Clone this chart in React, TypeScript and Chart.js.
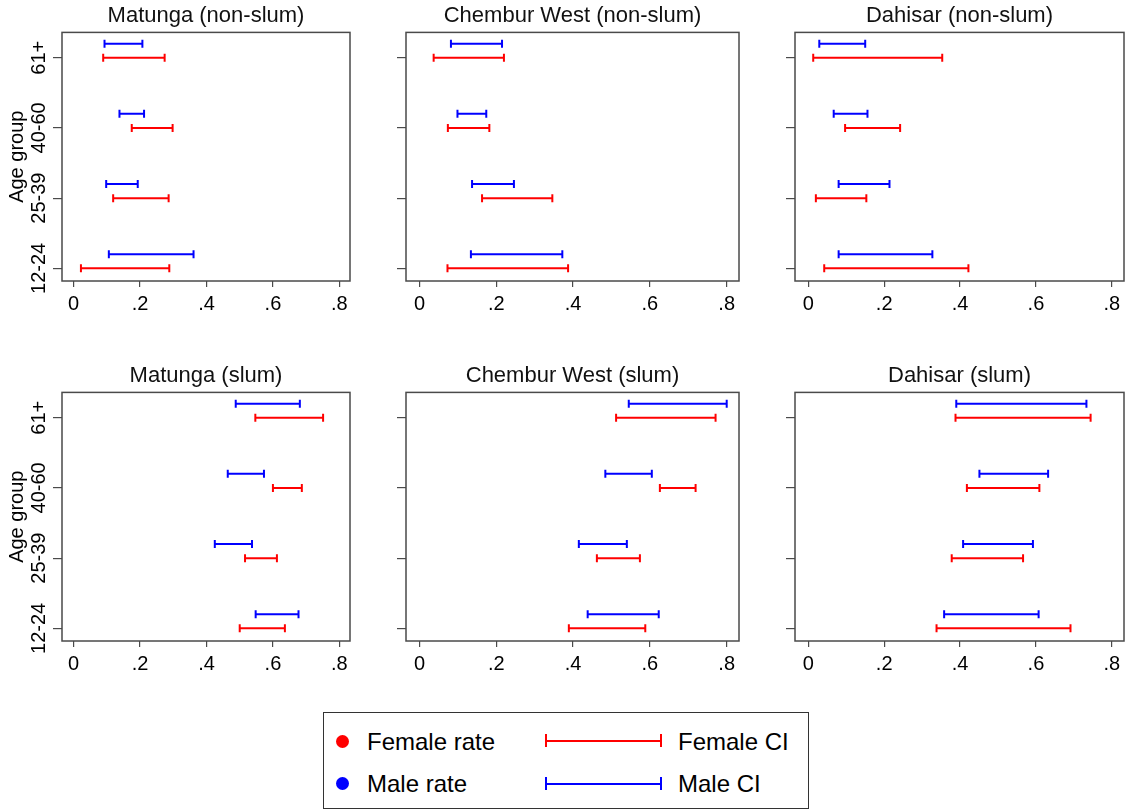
import React, { useEffect, useRef } from 'react';
import { Chart, registerables } from 'chart.js';

Chart.register(...registerables);

// ---------- data ----------
const ageGroups = ['12-24', '25-39', '40-60', '61+'];
const ageGroupPositions = [1, 2, 3, 4];
const maleOffset = 0.2;
const xTickValues = [0, 0.2, 0.4, 0.6, 0.8];
const xTickLabels = ['0', '.2', '.4', '.6', '.8'];
const yAxisTitle = 'Age group';

const panelTitles = [
  'Matunga (non-slum)',
  'Chembur West (non-slum)',
  'Dahisar (non-slum)',
  'Matunga (slum)',
  'Chembur West (slum)',
  'Dahisar (slum)',
];

// CI bounds, ordered as ageGroups: 12-24, 25-39, 40-60, 61+
const matungaNonSlumFemaleLo = [0.022, 0.119, 0.175, 0.089];
const matungaNonSlumFemaleHi = [0.288, 0.286, 0.298, 0.274];
const matungaNonSlumMaleLo = [0.106, 0.098, 0.138, 0.093];
const matungaNonSlumMaleHi = [0.361, 0.193, 0.212, 0.207];

const chemburNonSlumFemaleLo = [0.073, 0.163, 0.074, 0.037];
const chemburNonSlumFemaleHi = [0.387, 0.346, 0.182, 0.220];
const chemburNonSlumMaleLo = [0.134, 0.137, 0.099, 0.082];
const chemburNonSlumMaleHi = [0.372, 0.246, 0.174, 0.215];

const dahisarNonSlumFemaleLo = [0.042, 0.020, 0.097, 0.013];
const dahisarNonSlumFemaleHi = [0.422, 0.153, 0.242, 0.353];
const dahisarNonSlumMaleLo = [0.080, 0.080, 0.067, 0.029];
const dahisarNonSlumMaleHi = [0.327, 0.214, 0.156, 0.150];

const matungaSlumFemaleLo = [0.500, 0.516, 0.600, 0.547];
const matungaSlumFemaleHi = [0.636, 0.612, 0.687, 0.751];
const matungaSlumMaleLo = [0.548, 0.425, 0.464, 0.488];
const matungaSlumMaleHi = [0.677, 0.537, 0.573, 0.681];

const chemburSlumFemaleLo = [0.389, 0.462, 0.626, 0.512];
const chemburSlumFemaleHi = [0.588, 0.574, 0.719, 0.771];
const chemburSlumMaleLo = [0.438, 0.415, 0.484, 0.545];
const chemburSlumMaleHi = [0.623, 0.540, 0.605, 0.800];

const dahisarSlumFemaleLo = [0.338, 0.378, 0.418, 0.388];
const dahisarSlumFemaleHi = [0.691, 0.566, 0.609, 0.744];
const dahisarSlumMaleLo = [0.358, 0.408, 0.451, 0.390];
const dahisarSlumMaleHi = [0.607, 0.592, 0.632, 0.733];

const legendLabels = ['Female rate', 'Male rate', 'Female CI', 'Male CI'];

// ---------- styling / layout ----------
const FONT = '"Liberation Sans", Arial, Helvetica, sans-serif';
const FEMALE_COLOR = '#ff0000';
const MALE_COLOR = '#0000ff';
const FRAME_COLOR = '#4a4a4a';

const panels = [
  { title: panelTitles[0], fLo: matungaNonSlumFemaleLo, fHi: matungaNonSlumFemaleHi, mLo: matungaNonSlumMaleLo, mHi: matungaNonSlumMaleHi },
  { title: panelTitles[1], fLo: chemburNonSlumFemaleLo, fHi: chemburNonSlumFemaleHi, mLo: chemburNonSlumMaleLo, mHi: chemburNonSlumMaleHi },
  { title: panelTitles[2], fLo: dahisarNonSlumFemaleLo, fHi: dahisarNonSlumFemaleHi, mLo: dahisarNonSlumMaleLo, mHi: dahisarNonSlumMaleHi },
  { title: panelTitles[3], fLo: matungaSlumFemaleLo, fHi: matungaSlumFemaleHi, mLo: matungaSlumMaleLo, mHi: matungaSlumMaleHi },
  { title: panelTitles[4], fLo: chemburSlumFemaleLo, fHi: chemburSlumFemaleHi, mLo: chemburSlumMaleLo, mHi: chemburSlumMaleHi },
  { title: panelTitles[5], fLo: dahisarSlumFemaleLo, fHi: dahisarSlumFemaleHi, mLo: dahisarSlumMaleLo, mHi: dahisarSlumMaleHi },
];

const colLayouts = [
  { x: 0, w: 360, yWidth: 62, padRight: 10, labels: true },
  { x: 370, w: 380, yWidth: 36, padRight: 11, labels: false },
  { x: 755, w: 375, yWidth: 40, padRight: 2, labels: false },
];
const rowTops = [0, 360];
const PANEL_H = 330;

function ciDataset(lo: number, hi: number, y: number, color: string) {
  return {
    type: 'scatter' as const,
    data: [
      { x: lo, y },
      { x: hi, y },
    ],
    showLine: true,
    borderColor: color,
    backgroundColor: color,
    borderWidth: 2,
    pointStyle: 'line' as const,
    rotation: 90,
    pointRadius: 4,
    pointHoverRadius: 4,
    pointBorderWidth: 2,
    pointBorderColor: color,
  };
}

const framePlugin = {
  id: 'frame',
  afterDraw(chart: any) {
    const { ctx, chartArea: a } = chart;
    ctx.save();
    ctx.strokeStyle = FRAME_COLOR;
    ctx.lineWidth = 1.5;
    ctx.strokeRect(a.left, a.top, a.right - a.left, a.bottom - a.top);
    ctx.restore();
  },
};

const yLabelPlugin = {
  id: 'yLabels',
  afterDraw(chart: any, _args: any, opts: any) {
    if (!opts || !opts.show) return;
    const ys = chart.scales.y;
    const { ctx } = chart;
    ctx.save();
    ctx.font = `20px ${FONT}`;
    ctx.fillStyle = '#000';
    ctx.textAlign = 'center';
    ctx.textBaseline = 'middle';
    ageGroupPositions.forEach((pos, i) => {
      const py = ys.getPixelForValue(pos);
      ctx.save();
      ctx.translate(ys.right - 9 - 14, py);
      ctx.rotate(-Math.PI / 2);
      ctx.fillText(ageGroups[i], 0, 0);
      ctx.restore();
    });
    ctx.restore();
  },
};

function Panel({ idx }: { idx: number }) {
  const ref = useRef<HTMLCanvasElement>(null);
  const col = colLayouts[idx % 3];
  const top = rowTops[Math.floor(idx / 3)];

  useEffect(() => {
    const p = panels[idx];
    const datasets: any[] = [];
    ageGroupPositions.forEach((pos, i) => {
      datasets.push(ciDataset(p.fLo[i], p.fHi[i], pos, FEMALE_COLOR));
      datasets.push(ciDataset(p.mLo[i], p.mHi[i], pos + maleOffset, MALE_COLOR));
    });
    const chart = new Chart(ref.current as HTMLCanvasElement, {
      type: 'scatter',
      data: { datasets },
      options: {
        responsive: false,
        animation: false,
        devicePixelRatio: 1,
        events: [],
        layout: { padding: { left: 0, right: col.padRight, top: 0, bottom: 0 } },
        plugins: {
          legend: { display: false },
          tooltip: { enabled: false },
          title: {
            display: true,
            text: p.title,
            fullSize: false,
            color: '#111',
            font: { family: FONT, size: 22, weight: 'normal' },
            padding: { top: 3, bottom: 3 },
          },
          yLabels: { show: col.labels },
        } as any,
        scales: {
          x: {
            type: 'linear',
            min: -0.035,
            max: 0.832,
            afterBuildTicks: (s: any) => {
              s.ticks = xTickValues.map((v) => ({ value: v }));
            },
            afterFit: (s: any) => {
              s.height = 49;
            },
            ticks: {
              autoSkip: false,
              maxRotation: 0,
              padding: 5,
              color: '#000',
              font: { family: FONT, size: 20 },
              callback: (_v: any, i: number) => xTickLabels[i],
            },
            grid: { drawOnChartArea: false, tickLength: 6, color: FRAME_COLOR, lineWidth: 1.2 },
            border: { display: false },
          },
          y: {
            type: 'linear',
            min: 0.82,
            max: 4.36,
            afterBuildTicks: (s: any) => {
              s.ticks = ageGroupPositions.map((v) => ({ value: v }));
            },
            afterFit: (s: any) => {
              s.width = col.yWidth;
            },
            ticks: { display: false },
            grid: { drawOnChartArea: false, tickLength: 9, color: FRAME_COLOR, lineWidth: 1.2 },
            border: { display: false },
            title: {
              display: col.labels,
              text: yAxisTitle,
              color: '#000',
              font: { family: FONT, size: 20 },
              padding: { top: 5, bottom: 0 },
            },
          },
        } as any,
      },
      plugins: [framePlugin, yLabelPlugin],
    });
    return () => chart.destroy();
  }, [idx]);

  return (
    <canvas
      ref={ref}
      width={col.w}
      height={PANEL_H}
      style={{ position: 'absolute', left: col.x, top, width: col.w, height: PANEL_H }}
    />
  );
}

function Legend() {
  const textStyle = (left: number, top: number): React.CSSProperties => ({
    position: 'absolute',
    left,
    top,
    fontFamily: FONT,
    fontSize: 24,
    lineHeight: '28px',
    color: '#000',
    whiteSpace: 'nowrap',
  });
  const dot = (cx: number, cy: number, color: string): React.CSSProperties => ({
    position: 'absolute',
    left: cx - 6.5,
    top: cy - 6.5,
    width: 13,
    height: 13,
    borderRadius: '50%',
    background: color,
  });
  const ci = (x1: number, x2: number, cy: number, color: string) => (
    <>
      <div style={{ position: 'absolute', left: x1, top: cy - 1, width: x2 - x1, height: 2, background: color }} />
      <div style={{ position: 'absolute', left: x1 - 1, top: cy - 6.5, width: 2, height: 13, background: color }} />
      <div style={{ position: 'absolute', left: x2 - 1, top: cy - 6.5, width: 2, height: 13, background: color }} />
    </>
  );
  return (
    <>
      <div
        style={{
          position: 'absolute',
          left: 323,
          top: 712,
          width: 486,
          height: 97,
          border: `1.5px solid #333`,
          boxSizing: 'border-box',
        }}
      />
      <div style={dot(342, 741.5, FEMALE_COLOR)} />
      <div style={textStyle(367, 727.5)}>{legendLabels[0]}</div>
      <div style={dot(342, 783.5, MALE_COLOR)} />
      <div style={textStyle(367, 769.5)}>{legendLabels[1]}</div>
      {ci(546, 661, 740.5, FEMALE_COLOR)}
      <div style={textStyle(678, 727.5)}>{legendLabels[2]}</div>
      {ci(546, 661, 783.5, MALE_COLOR)}
      <div style={textStyle(678, 769.5)}>{legendLabels[3]}</div>
    </>
  );
}

export default function App() {
  return (
    <div style={{ position: 'absolute', left: 0, top: 0, width: 1130, height: 811, background: '#fff', overflow: 'hidden' }}>
      {panels.map((_, i) => (
        <Panel key={i} idx={i} />
      ))}
      <Legend />
    </div>
  );
}
